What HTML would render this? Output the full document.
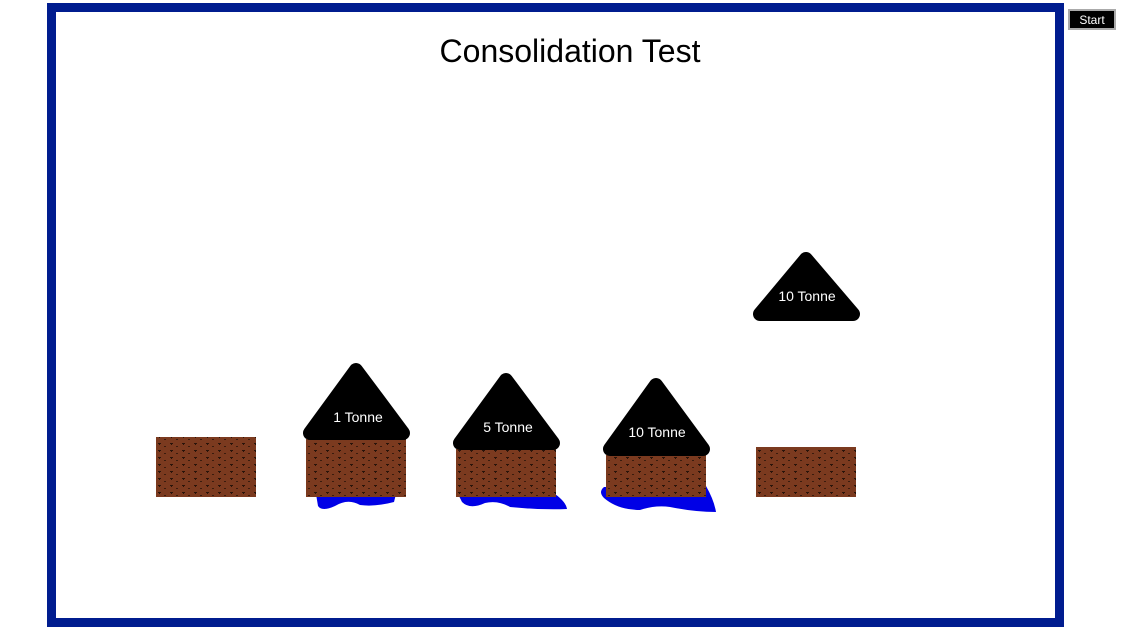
<!DOCTYPE html>
<html><head><meta charset="utf-8"><style>
html,body{margin:0;padding:0;background:#fff;}
svg{display:block;}
</style></head><body>
<svg width="1140" height="630" viewBox="0 0 1140 630" xmlns="http://www.w3.org/2000/svg">
<defs>
<pattern id="soil" width="12" height="7" patternUnits="userSpaceOnUse">
<rect width="12" height="7" fill="#7b3a1f"/>
<rect x="2" y="2" width="3" height="1" fill="#2a140a"/>
<rect x="3" y="3" width="1" height="1" fill="#2a140a"/>
<rect x="8" y="5" width="2" height="1" fill="#3a1c0e"/>
</pattern>
</defs>
<rect x="51.5" y="7.5" width="1008" height="615" fill="#fff" stroke="#001c8f" stroke-width="9"/>
<text x="570" y="62" font-family="Liberation Sans, sans-serif" font-size="32" text-anchor="middle" fill="#000">Consolidation Test</text>
<rect x="1069" y="10" width="46" height="19" fill="#000" stroke="#aaa" stroke-width="2"/>
<text x="1092" y="24" font-family="Liberation Sans, sans-serif" font-size="12" text-anchor="middle" fill="#fff">Start</text>

<path d="M316,494 L318,506 Q322,512 335,506 Q348,498 360,505 Q375,507 394,502 L396,494 Z" fill="#0000e6"/>
<path d="M458,494 L462,502 Q470,510 485,503 Q498,500 510,507 Q540,510 567,509 Q566,502 555,494 Z" fill="#0000e6"/>
<path d="M604,487 Q598,492 604,498 Q618,510 640,510 Q655,505 670,507 Q695,512 716,512 Q714,500 706,486 Z" fill="#0000e6"/>

<rect x="156" y="437" width="100" height="60" fill="url(#soil)"/>
<rect x="306" y="439" width="100" height="58" fill="url(#soil)"/>
<rect x="456" y="449" width="100" height="48" fill="url(#soil)"/>
<rect x="606" y="455" width="100" height="42" fill="url(#soil)"/>
<rect x="756" y="447" width="100" height="50" fill="url(#soil)"/>

<g fill="#000" stroke="#000" stroke-width="14" stroke-linejoin="round">
<polygon points="356,370 310,433 403,433"/>
<polygon points="506,380 460,443 553,443"/>
<polygon points="656,385 610,449 703,449"/>
<polygon points="806,259 760,314 853,314"/>
</g>
<g font-family="Liberation Sans, sans-serif" font-size="14" fill="#fff" text-anchor="middle">
<text x="358" y="422">1 Tonne</text>
<text x="508" y="432">5 Tonne</text>
<text x="657" y="437">10 Tonne</text>
<text x="807" y="301">10 Tonne</text>
</g>
</svg>
</body></html>
